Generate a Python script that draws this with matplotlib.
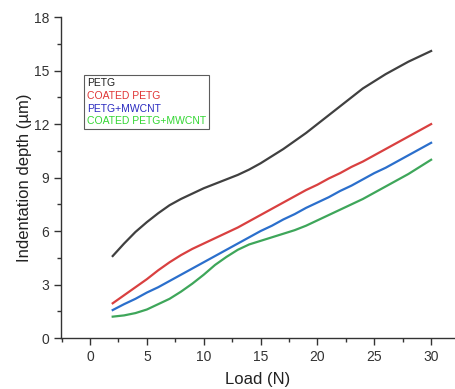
import matplotlib
matplotlib.use("Agg")
import matplotlib.pyplot as plt
from matplotlib.ticker import MultipleLocator

plt.rcParams['font.family'] = ['Liberation Sans', 'DejaVu Sans']

# load (N) and indentation depth (um)
load = list(range(2, 31))
petg = [4.6, 5.3, 5.95, 6.5, 7.0, 7.45, 7.8, 8.1, 8.4, 8.65, 8.9, 9.15, 9.45, 9.8,
        10.2, 10.6, 11.05, 11.5, 12.0, 12.5, 13.0, 13.5, 14.0, 14.4, 14.8, 15.15,
        15.5, 15.8, 16.1]
coated_petg = [1.95, 2.4, 2.85, 3.3, 3.8, 4.25, 4.65, 5.0, 5.3, 5.6, 5.9, 6.2, 6.55,
               6.9, 7.25, 7.6, 7.95, 8.3, 8.6, 8.95, 9.25, 9.6, 9.9, 10.25, 10.6,
               10.95, 11.3, 11.65, 12.0]
petg_mwcnt = [1.57, 1.9, 2.2, 2.55, 2.85, 3.2, 3.55, 3.9, 4.25, 4.6, 4.95, 5.3, 5.65,
              6.0, 6.3, 6.65, 6.95, 7.3, 7.6, 7.9, 8.25, 8.55, 8.9, 9.25, 9.55, 9.9,
              10.25, 10.6, 10.95]
coated_petg_mwcnt = [1.2, 1.27, 1.4, 1.6, 1.9, 2.2, 2.6, 3.05, 3.55, 4.1, 4.55, 4.95,
                     5.25, 5.45, 5.65, 5.85, 6.05, 6.3, 6.6, 6.9, 7.2, 7.5, 7.8, 8.15,
                     8.5, 8.85, 9.2, 9.6, 10.0]

names = ["PETG", "COATED PETG", "PETG+MWCNT", "COATED PETG+MWCNT"]
line_colors = ["#404040", "#d94040", "#2b6fcc", "#3ea65a"]
text_colors = ["#202020", "#e03535", "#2a2ac0", "#33d633"]

fig = plt.figure(figsize=(4.55, 3.89), dpi=100)
ax = fig.add_axes([0.134, 0.131, 0.866, 0.825])

for ys, name, c in zip([petg, coated_petg, petg_mwcnt, coated_petg_mwcnt], names, line_colors):
    ax.plot(load, ys, color=c, lw=1.6, label=name, solid_joinstyle="round")

ax.set_xlim(-2.55, 32.1)
ax.set_ylim(0, 18)
ax.xaxis.set_major_locator(MultipleLocator(5))
ax.xaxis.set_minor_locator(MultipleLocator(2.5))
ax.yaxis.set_major_locator(MultipleLocator(3))
ax.yaxis.set_minor_locator(MultipleLocator(1.5))

for s in ["top", "right"]:
    ax.spines[s].set_visible(False)
for s in ["left", "bottom"]:
    ax.spines[s].set_color("#333333")
    ax.spines[s].set_linewidth(1.0)
ax.tick_params(which="major", direction="out", length=5, width=1, colors="#333333", labelsize=10)
ax.tick_params(which="minor", direction="out", length=3, width=1, colors="#333333")

ax.set_xlabel("Load (N)", fontsize=12, color="#222222", labelpad=6)
ax.set_ylabel("Indentation depth (µm)", fontsize=12, color="#222222", labelpad=1)

leg = ax.legend(loc="upper left", bbox_to_anchor=(0.058, 0.819), borderaxespad=0,
                handlelength=0, handletextpad=0, fontsize=7.5, fancybox=False,
                frameon=True, borderpad=0.3, labelspacing=0.25)
leg.get_frame().set_edgecolor("#333333")
leg.get_frame().set_linewidth(0.8)
for h in leg.legend_handles:
    h.set_visible(False)
for t, c in zip(leg.get_texts(), text_colors):
    t.set_color(c)

fig.savefig("out.png", dpi=100)
